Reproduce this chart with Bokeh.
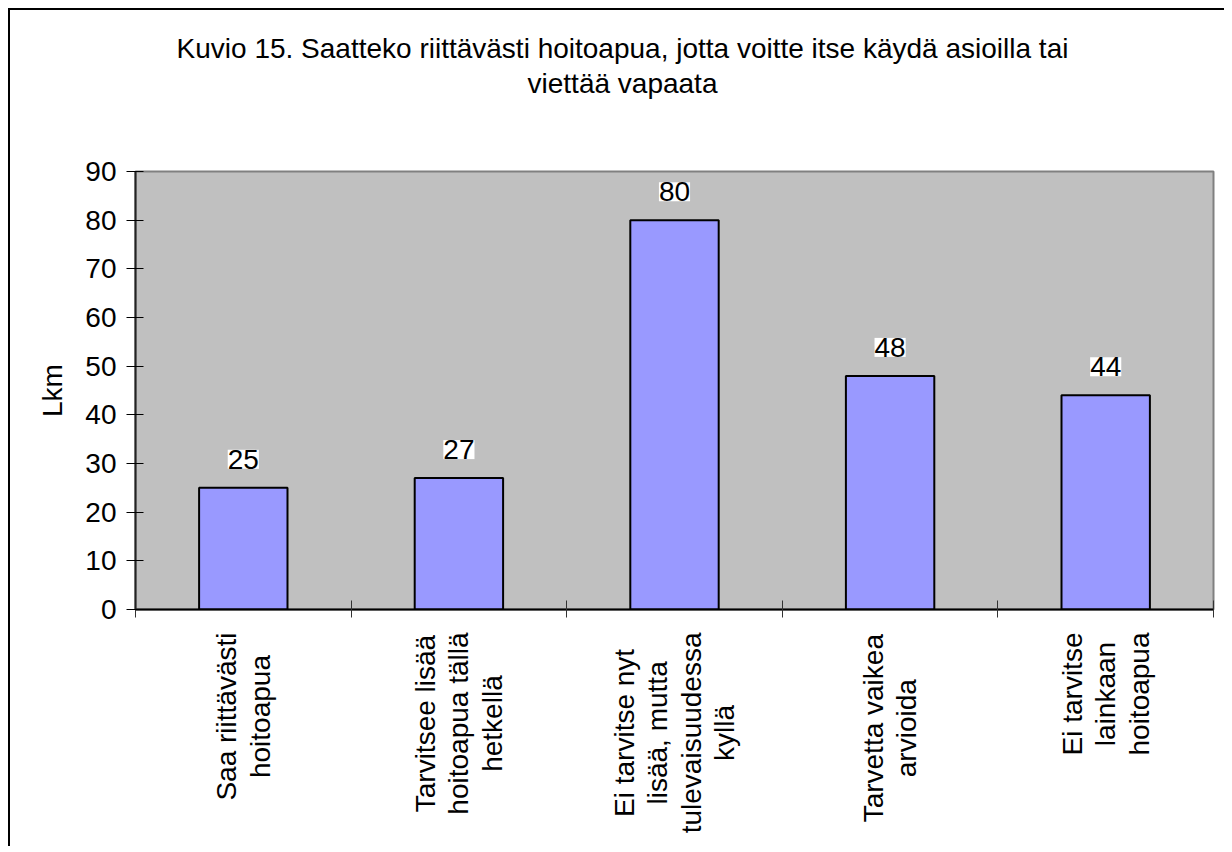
import math
from bokeh.plotting import figure
from bokeh.layouts import column
from bokeh.models import (Range1d, FixedTicker, SingleIntervalTicker, LinearAxis,
                          LabelSet, ColumnDataSource)
from bokeh.core.properties import value
from bokeh.embed import file_html
from bokeh.resources import INLINE

# ---- data ----
categories = [
    "Saa riittävästi\nhoitoapua",
    "Tarvitsee lisää\nhoitoapua tällä\nhetkellä",
    "Ei tarvitse nyt\nlisää, mutta\ntulevaisuudessa\nkyllä",
    "Tarvetta vaikea\narvioida",
    "Ei tarvitse\nlainkaan\nhoitoapua",
]
values = [25, 27, 80, 48, 44]
title_lines = ["Kuvio 15. Saatteko riittävästi hoitoapua, jotta voitte itse käydä asioilla tai",
               "viettää vapaata"]
y_label = "Lkm"

FONT = "Liberation Sans"
FSN = 28
FS = f"{FSN}px"
Y_MAX = 90
N = len(values)

WIDTH = 1214
B_LEFT, B_RIGHT = 125, 11
H0 = 120                # title strip
P_TOP = 41
FRAME_H = 438
P_BOTTOM = 18
H2 = 219                # category label strip
FRAME_W = WIDTH - B_LEFT - B_RIGHT

# Arial / Liberation Sans advance widths (em) used to centre rotated label lines
W = {c: 0.556 for c in "abdeghnopquä"}
W.update({"c": 0.5, "k": 0.5, "s": 0.5, "v": 0.5, "x": 0.5, "y": 0.5, "z": 0.5,
          "f": 0.278, "t": 0.278, "i": 0.222, "j": 0.222, "l": 0.222, "r": 0.333,
          "m": 0.833, "w": 0.722, " ": 0.278, ",": 0.278, ".": 0.278,
          "E": 0.667, "S": 0.667, "T": 0.611})


def text_w(s):
    return sum(W.get(ch, 0.556) for ch in s) * FSN


def strip(h, xr, yr):
    f = figure(width=WIDTH, height=h, output_backend="svg", toolbar_location=None,
               x_range=xr, y_range=yr, min_border_left=B_LEFT, min_border_right=B_RIGHT,
               min_border_top=0, min_border_bottom=0, x_axis_type=None, y_axis_type=None)
    f.xgrid.visible = False
    f.ygrid.visible = False
    f.outline_line_color = None
    f.background_fill_color = "white"
    f.border_fill_color = "white"
    return f


# ---- title strip (pixel coordinates relative to the plot frame, y downward) ----
p0 = strip(H0, Range1d(0, FRAME_W), Range1d(H0, 0))
p0.text(x=[487, 487], y=[38, 73], text=title_lines, text_align="center",
        text_baseline="alphabetic", text_font=value(FONT), text_font_size=value(FS),
        text_color="black")

# ---- main plot ----
xr = Range1d(0, N)
p = figure(width=WIDTH, height=P_TOP + FRAME_H + P_BOTTOM, output_backend="svg",
           toolbar_location=None, x_range=xr, y_range=Range1d(0, Y_MAX),
           min_border_left=B_LEFT, min_border_right=B_RIGHT, min_border_top=P_TOP,
           min_border_bottom=P_BOTTOM, x_axis_type=None, y_axis_type=None)
p.background_fill_color = "#C0C0C0"
p.border_fill_color = "white"
p.outline_line_color = "#808080"
p.outline_line_width = 2
p.xgrid.visible = False
p.ygrid.visible = False

xs = [i + 0.5 for i in range(N)]
src = ColumnDataSource(dict(x=xs, top=values, lab=[str(v) for v in values]))
p.vbar(x="x", top="top", width=0.41, source=src, fill_color="#9999FF",
       line_color="black", line_width=2)

# y axis
yax = LinearAxis(ticker=SingleIntervalTicker(interval=10))
yax.axis_line_color = "#222222"
yax.axis_line_width = 2
yax.major_tick_in = 8
yax.major_tick_out = 9
yax.major_tick_line_color = "black"
yax.minor_tick_line_color = None
yax.major_label_standoff = 10
yax.major_label_text_font = FONT
yax.major_label_text_font_size = FS
yax.major_label_text_color = "black"
yax.axis_label = y_label
yax.axis_label_text_font = FONT
yax.axis_label_text_font_size = FS
yax.axis_label_text_font_style = "normal"
yax.axis_label_text_color = "black"
yax.axis_label_standoff = 14
p.add_layout(yax, "left")

# x axis: ticks between categories, no labels
bticks = list(range(N + 1))
xax = LinearAxis(ticker=FixedTicker(ticks=bticks),
                 major_label_overrides={t: "" for t in bticks})
xax.axis_line_color = "black"
xax.axis_line_width = 2
xax.major_tick_in = 9
xax.major_tick_out = 8
xax.major_tick_line_color = "#333333"
xax.minor_tick_line_color = None
xax.major_label_standoff = 0
p.add_layout(xax, "below")

# data labels
ls = LabelSet(x="x", y="top", text="lab", source=src, text_align="center",
              text_baseline="bottom", y_offset=19, text_font=value(FONT),
              text_font_size=value(FS), text_color="black",
              background_fill_color="white")
p.add_layout(ls)

# ---- category label strip ----
LABEL_TOP = 5           # px below the top of the strip
LINE_PX = 1.2 * FSN
px_per_x = FRAME_W / N
lx, ly, lt = [], [], []
for x, cat in zip(xs, categories):
    lines = cat.split("\n")
    maxw = max(text_w(s) for s in lines)
    n = len(lines)
    for j, s in enumerate(lines):
        lx.append(x + (j - (n - 1) / 2) * LINE_PX / px_per_x)
        ly.append(LABEL_TOP + maxw / 2)
        lt.append(s)

p2 = strip(H2, xr, Range1d(H2, 0))
p2.text(x=lx, y=ly, text=lt, angle=math.pi / 2, text_align="center",
        text_baseline="middle", text_font=value(FONT), text_font_size=value(FS),
        text_color="black")

layout = column(p0, p, p2, spacing=0,
                styles={"margin-left": "8px", "margin-top": "8px",
                        "border-top": "2px solid black",
                        "border-left": "2px solid black"})

open("out.html", "w").write(file_html(layout, INLINE))
